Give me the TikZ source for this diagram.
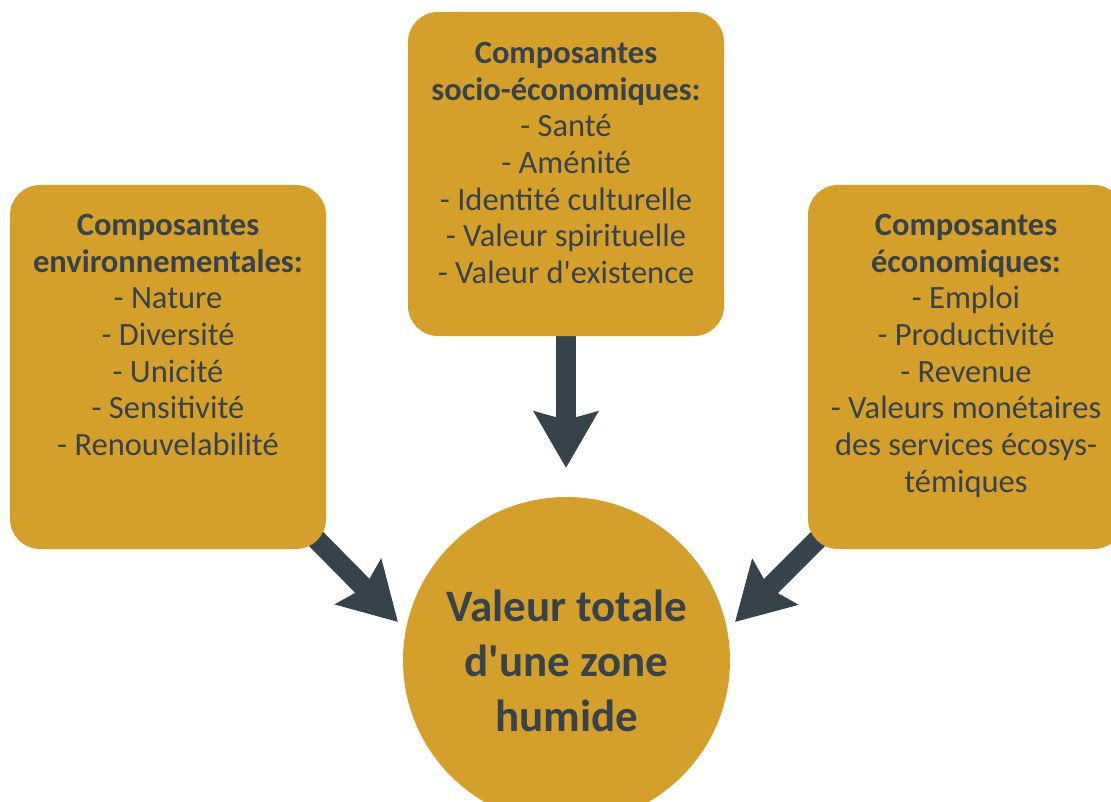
\documentclass[tikz,border=0pt]{standalone}
\usepackage{fontspec}
% plain family: no TeX quote mapping, so ' stays a straight apostrophe
\newfontfamily\calib{Carlito}
\usetikzlibrary{arrows.meta,backgrounds}
\definecolor{gold}{HTML}{D5A02A}
\definecolor{slate}{HTML}{36434B}
\begin{document}
\begin{tikzpicture}[x=1pt,y=-1pt,
  panel/.style={fill=gold, rounded corners=30pt, minimum width=316pt, inner sep=0pt},
  paneltext/.style={text=slate, align=center, anchor=north, inner sep=0pt,
    font=\calib\fontsize{32.5}{36.7}\selectfont},
  hub/.style={circle, fill=gold, minimum size=327pt, inner sep=0pt},
  hubtext/.style={text=slate, align=center, inner sep=0pt,
    font=\calib\bfseries\fontsize{45}{55}\selectfont},
  flow/.style={draw=slate, line width=20pt,
    -{Stealth[length=56pt, width=63pt, inset=8pt]}, shorten <=-25pt}
]
\path[use as bounding box, clip] (0,0) rectangle (1111,802);

% the three component panels
\node[panel, minimum height=364pt] (env) at (168,367) {};
\node[panel, minimum height=324pt] (soc) at (566,174) {};
\node[panel, minimum height=364pt] (eco) at (966,367) {};

\node[paneltext] (envtxt) at ([yshift=-29pt]env.north)
  {\textbf{Composantes}\\\textbf{environnementales:}\\- Nature\\- Diversité\\- Unicité\\- Sensitivité\\- Renouvelabilité};
\node[paneltext] (soctxt) at ([yshift=-30pt]soc.north)
  {\textbf{Composantes}\\\textbf{socio-économiques:}\\- Santé\\- Aménité\\- Identité culturelle\\- Valeur spirituelle\\- Valeur d'existence};
\node[paneltext] (ecotxt) at ([yshift=-29pt]eco.north)
  {\textbf{Composantes}\\\textbf{économiques:}\\- Emploi\\- Productivité\\- Revenue\\- Valeurs monétaires\\des services écosys-\\témiques};

% total value
\node[hub] (total) at (566.5,660.5) {};
\node[hubtext] (totaltxt) at (total.center) {Valeur totale\\d'une zone\\humide};

% arrow tips, just outside the circle
\coordinate (tipenv) at (398,622);
\coordinate (tipsoc) at (566,468);
\coordinate (tipeco) at (735,622);

\begin{pgfonlayer}{background}
  \draw[flow] (env.south east) -- (tipenv);
  \draw[flow] (soc.south) -- (tipsoc);
  \draw[flow] (eco.south west) -- (tipeco);
\end{pgfonlayer}
\end{tikzpicture}
\end{document}
